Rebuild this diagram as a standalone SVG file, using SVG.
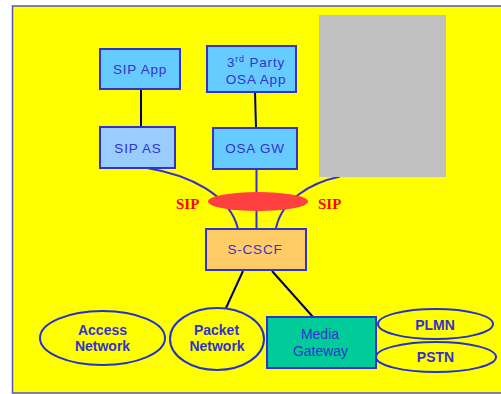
<svg xmlns="http://www.w3.org/2000/svg" width="501" height="394" viewBox="0 0 501 394">
<style>
.box{stroke:#3333CC;stroke-width:2}
.ell{fill:none;stroke:#2233CC;stroke-width:2}
.t{font-family:"Liberation Sans",Arial,sans-serif;font-size:13.5px;fill:#3333CC;text-anchor:middle;letter-spacing:0.8px}
.tb{font-family:"Liberation Sans",Arial,sans-serif;font-size:14px;font-weight:bold;fill:#3333CC;text-anchor:middle}
.tn{font-family:"Liberation Sans",Arial,sans-serif;font-size:14px;fill:#3333CC;text-anchor:middle}
.sip{font-family:"Liberation Serif","Times New Roman",serif;font-size:15px;font-weight:bold;fill:#FF0000}
.dk{stroke:#000066;stroke-width:2;fill:none}
.bl{stroke:#3333CC;stroke-width:2;fill:none}
</style>
<rect x="0" y="0" width="501" height="394" fill="#FFFFFF"/>
<path d="M503,6 H12.5 V393 H503" fill="#FFFF00" stroke="#5555BB" stroke-width="1.5"/>
<g id="connectors">
<line class="dk" x1="141" y1="89" x2="141" y2="127"/>
<line class="dk" x1="255" y1="92" x2="256" y2="128"/>
<line class="bl" x1="256.5" y1="169" x2="256.5" y2="229"/>
<path class="bl" d="M147,168 C190,175 230,195 238,229"/>
<path class="bl" d="M340,176.5 C310,183 282,200 276,228"/>
<line class="dk" x1="243" y1="271" x2="226" y2="308"/>
<line class="dk" x1="272" y1="271" x2="313" y2="317"/>
</g>
<g id="gray"><rect x="319" y="15" width="127" height="162" fill="#C0C0C0"/></g>
<g id="sip-bus">
<ellipse cx="258" cy="201.5" rx="50" ry="9.5" fill="#FF4040"/>
<text class="sip" x="176" y="209">SIP</text>
<text class="sip" x="318" y="209">SIP</text>
</g>
<g id="sip-app"><rect class="box" x="100" y="49" width="80" height="40" fill="#66CCFF"/><text class="t" x="140" y="74">SIP App</text></g>
<g id="osa-app"><rect class="box" x="207" y="46" width="89" height="46" fill="#66CCFF"/><text class="t" x="256" y="67">3<tspan font-size="9" dy="-5">rd</tspan><tspan dy="5"> Party</tspan></text><text class="t" x="256" y="84">OSA App</text></g>
<g id="sip-as"><rect class="box" x="100" y="127" width="75" height="41" fill="#99CCFF"/><text class="t" x="138" y="153">SIP AS</text></g>
<g id="osa-gw"><rect class="box" x="213" y="128" width="84" height="41" fill="#66CCFF"/><text class="t" x="255" y="153">OSA GW</text></g>
<g id="s-cscf"><rect class="box" x="206" y="229" width="100" height="41" fill="#FFCC66"/><text class="t" x="255" y="254">S-CSCF</text></g>
<g id="access"><ellipse class="ell" cx="102.5" cy="338" rx="62.5" ry="27"/><text class="tb" x="102.5" y="335">Access</text><text class="tb" x="102.5" y="351">Network</text></g>
<g id="packet"><ellipse class="ell" cx="217" cy="339" rx="47" ry="31"/><text class="tb" x="216.5" y="335">Packet</text><text class="tb" x="217" y="351">Network</text></g>
<g id="mgw"><rect class="box" x="267" y="317" width="109" height="51" fill="#00CC99"/><text class="tn" x="320" y="339">Media</text><text class="tn" x="320.5" y="356">Gateway</text></g>
<g id="plmn"><ellipse class="ell" cx="435.5" cy="324" rx="57.5" ry="15"/><text class="tb" x="435" y="330">PLMN</text></g>
<g id="pstn"><ellipse class="ell" cx="436" cy="357" rx="60" ry="15"/><text class="tb" x="435.5" y="362">PSTN</text></g>
</svg>
